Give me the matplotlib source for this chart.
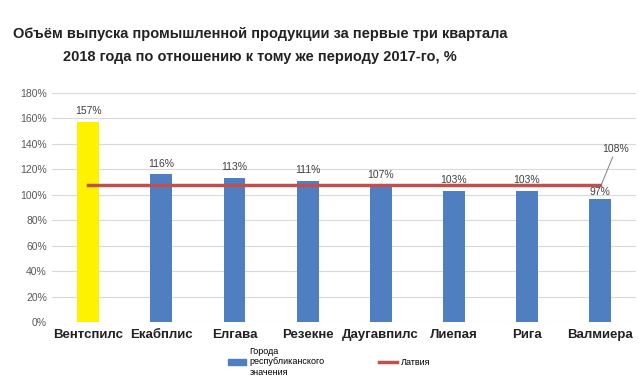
import matplotlib
matplotlib.use("Agg")
import matplotlib.pyplot as plt
from matplotlib.patches import Patch
from matplotlib.lines import Line2D

plt.rcParams['font.family'] = ['Liberation Sans', 'DejaVu Sans']

cities = ["Вентспилс", "Екабплис", "Елгава", "Резекне", "Даугавпилс", "Лиепая", "Рига", "Валмиера"]
values = [157, 116, 113, 111, 107, 103, 103, 97]
latvia = 108
yticks = list(range(0, 181, 20))

title = "Объём выпуска промышленной продукции за первые три квартала\n2018 года по отношению к тому же периоду 2017-го, %"

fig = plt.figure(figsize=(6.39, 3.79), dpi=100)
ax = fig.add_axes([0.081, 0.150, 0.915, 0.605])

x = list(range(len(cities)))
colors = ["#FFF200"] + ["#4F7FC1"] * (len(cities) - 1)
ax.bar(x, values, width=0.3, color=colors, zorder=2)
ax.plot([x[0], x[-1]], [latvia, latvia], color="#C0504D", lw=2.5, zorder=3)

for i, (xi, v) in enumerate(zip(x, values)):
    off = 1.0 if i == len(values) - 1 else 4.5
    ax.text(xi, v + off, f"{v}%", ha="center", va="bottom", fontsize=7.5, color="#404040", zorder=4)

ax.annotate(f"{latvia}%", xy=(x[-1] + 0.02, latvia), xytext=(x[-1] + 0.22, latvia + 24),
            fontsize=7.5, color="#404040", ha="center", va="bottom",
            arrowprops=dict(arrowstyle="-", color="#808080", lw=0.7, shrinkA=0, shrinkB=0))

ax.set_xlim(-0.5, len(cities) - 0.5)
ax.set_ylim(0, 180)
ax.set_yticks(yticks)
ax.set_yticklabels([f"{t}%" for t in yticks], fontsize=7.5, color="#595959")
ax.set_xticks(x)
ax.set_xticklabels(cities, fontsize=9.5, fontweight="bold", color="#222222")
ax.tick_params(axis="both", length=0)
ax.tick_params(axis="x", pad=5)
ax.grid(axis="y", color="#D9D9D9", lw=0.8, zorder=0)
for s in ax.spines.values():
    s.set_visible(False)

fig.text(0.407, 0.88, title, ha="center", va="center", fontsize=10.5, fontweight="bold",
         color="#222222", linespacing=1.75)

handles = [Patch(color="#4F7FC1"), Line2D([0], [0], color="#C0504D", lw=2.5)]
labels = ["Города\nреспубликанского\nзначения", "Латвия"]
fig.legend(handles, labels, loc="center", bbox_to_anchor=(0.515, 0.045), ncol=2, frameon=False,
           fontsize=6.5, handlelength=2.0, handleheight=0.6, columnspacing=6, handletextpad=0.4)

fig.savefig("out.png", dpi=100)
